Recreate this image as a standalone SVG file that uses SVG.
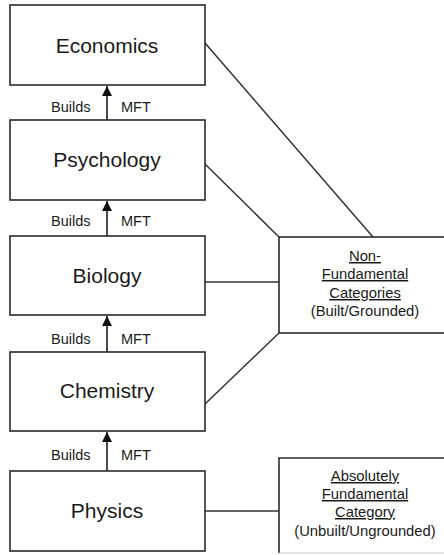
<svg xmlns="http://www.w3.org/2000/svg" width="444" height="555" viewBox="0 0 444 555">
<style>
.box{fill:#fff;stroke:#2a2a2a;stroke-width:1.6}
.lbl{font-family:"Liberation Sans",Arial,sans-serif;font-size:21px;fill:#1a1a1a;text-anchor:middle}
.sm{font-family:"Liberation Sans",Arial,sans-serif;font-size:14.5px;fill:#1a1a1a}
.rt{font-family:"Liberation Sans",Arial,sans-serif;font-size:14.8px;fill:#1a1a1a;text-anchor:middle}
.u{text-decoration:underline}
.ln{stroke:#333;stroke-width:1.5;fill:none}
.ar{stroke:#111;stroke-width:1.5;fill:none;marker-end:url(#ah)}
</style>
<defs>
<marker id="ah" viewBox="0 0 10 10" refX="10" refY="5" markerWidth="10" markerHeight="10" markerUnits="userSpaceOnUse" orient="auto">
<path d="M0,0 L10,5 L0,10 Z" fill="#111"/>
</marker>
</defs>
<rect width="444" height="555" fill="#fff"/>
<g id="connectors">
<line class="ln" x1="205" y1="43" x2="373" y2="237"/>
<line class="ln" x1="205" y1="164" x2="279" y2="237"/>
<line class="ln" x1="205" y1="282" x2="279" y2="282"/>
<line class="ln" x1="205" y1="404" x2="279" y2="333"/>
<line class="ln" x1="205" y1="511" x2="279" y2="511"/>
<line class="ar" x1="107" y1="120" x2="107" y2="86"/>
<line class="ar" x1="107" y1="236" x2="107" y2="201"/>
<line class="ar" x1="107" y1="352" x2="107" y2="316"/>
<line class="ar" x1="107" y1="471" x2="107" y2="432"/>
<text class="sm" x="51" y="112">Builds</text><text class="sm" x="121" y="112">MFT</text>
<text class="sm" x="51" y="226">Builds</text><text class="sm" x="121" y="226">MFT</text>
<text class="sm" x="51" y="344">Builds</text><text class="sm" x="121" y="344">MFT</text>
<text class="sm" x="51" y="460">Builds</text><text class="sm" x="121" y="460">MFT</text>
</g>
<g id="economics">
<rect class="box" x="10" y="5" width="195" height="80"/>
<text class="lbl" x="107" y="53">Economics</text>
</g>
<g id="psychology">
<rect class="box" x="10" y="120" width="195" height="80"/>
<text class="lbl" x="107" y="167">Psychology</text>
</g>
<g id="biology">
<rect class="box" x="10" y="236" width="195" height="79"/>
<text class="lbl" x="107" y="283">Biology</text>
</g>
<g id="chemistry">
<rect class="box" x="10" y="352" width="195" height="79"/>
<text class="lbl" x="107" y="398">Chemistry</text>
</g>
<g id="physics">
<rect class="box" x="10" y="471" width="195" height="80"/>
<text class="lbl" x="107" y="518">Physics</text>
</g>
<g id="non-fundamental">
<rect class="box" x="279" y="237" width="175" height="96"/>
<text class="rt u" x="365" y="261">Non-</text>
<text class="rt u" x="365" y="279">Fundamental</text>
<text class="rt u" x="365" y="298">Categories</text>
<text class="rt" x="365" y="316">(Built/Grounded)</text>
</g>
<g id="absolutely-fundamental">
<rect x="279" y="458" width="175" height="95" fill="#fff" stroke="none"/>
<path d="M279,553 V458 H454" fill="none" stroke="#2a2a2a" stroke-width="1.6"/>
<line x1="279" y1="553" x2="444" y2="553" stroke="#ccc" stroke-width="1"/>
<text class="rt u" x="365" y="481">Absolutely</text>
<text class="rt u" x="365" y="499">Fundamental</text>
<text class="rt u" x="365" y="517">Category</text>
<text class="rt" x="365" y="536">(Unbuilt/Ungrounded)</text>
</g>
</svg>
